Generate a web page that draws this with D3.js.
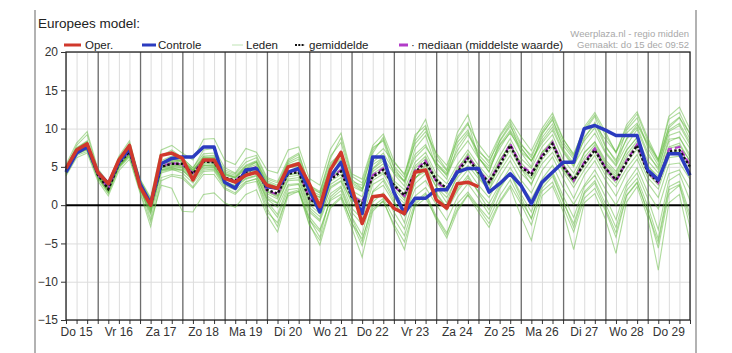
<!DOCTYPE html>
<html>
<head>
<meta charset="utf-8">
<script src="https://cdn.jsdelivr.net/npm/d3@7"></script>
<style>
 body { margin: 0; background: #fff; }
 svg text { font-family: Arial, "Liberation Sans", sans-serif; }
</style>
</head>
<body>
<svg id="pluim" width="732" height="353"></svg>
<script>
 // Europees model pluim, 6-uurlijks vanaf do 15 06:00
 const dayLabels = ["Do 15","Vr 16","Za 17","Zo 18","Ma 19","Di 20","Wo 21","Do 22","Vr 23","Za 24","Zo 25","Ma 26","Di 27","Wo 28","Do 29"];
 const yTicks = [20,15,10,5,0,-5,-10,-15];

 const oper = [4.8,7.2,8.0,4.3,2.8,5.9,7.8,2.4,0.0,6.5,6.8,6.1,3.3,5.9,5.9,3.5,3.0,3.9,4.3,2.6,2.2,5.0,5.4,2.8,-0.2,4.6,6.9,2.4,-2.4,1.1,1.3,-0.4,-1.1,4.3,4.6,0.7,-0.4,2.8,3.0,2.4];
 const controle = [4.3,6.8,7.6,4.3,2.8,5.6,7.4,2.8,0.2,5.4,6.1,6.3,6.3,7.6,7.6,3.0,2.2,4.6,4.8,2.4,2.2,4.3,4.8,2.0,-0.9,3.7,5.6,1.5,-1.1,6.3,6.3,1.7,-1.1,0.9,0.9,2.0,2.0,4.3,4.8,4.8,1.7,2.8,4.1,2.6,0.2,3.0,4.3,5.6,5.6,10.0,10.4,9.8,9.1,9.1,9.1,4.6,3.3,6.7,6.7,3.9];
 const gemiddelde = [4.5,7.0,7.7,4.0,2.1,5.4,7.0,2.6,0.0,5.0,5.4,5.4,4.1,5.7,5.6,3.6,3.2,4.3,4.9,2.0,1.5,4.1,4.3,0.8,0.0,3.3,4.4,1.1,0.2,3.7,4.6,2.6,1.3,4.3,5.6,3.3,2.2,4.3,6.1,4.3,3.0,5.2,7.8,5.0,4.0,6.3,8.0,5.0,3.3,5.4,7.2,4.8,3.3,5.6,7.8,4.3,3.0,7.0,7.2,5.0];
 const mediaan = [4.6,7.1,7.7,4.0,2.2,5.5,7.0,2.7,0.1,5.1,5.5,5.3,4.2,5.8,5.7,3.5,3.2,4.4,5.0,1.9,1.4,4.3,4.6,0.9,-0.2,3.5,4.6,1.2,0.4,3.9,4.8,2.5,1.2,4.5,5.8,3.1,2.0,4.6,6.3,4.5,3.1,5.4,8.0,5.2,4.2,6.5,8.2,5.1,3.2,5.6,7.4,4.9,3.1,5.8,7.9,4.4,2.9,7.3,7.6,5.2];

 const leden = [
  [5.0,7.5,8.4,4.4,2.4,5.8,7.6,3.0,0.5,5.6,6.0,5.9,4.6,6.4,6.5,4.4,3.9,5.2,5.8,3.2,2.6,5.2,5.6,2.0,1.3,4.8,6.2,2.8,1.9,5.6,6.8,4.5,3.2,6.6,7.9,5.2,4.0,6.6,8.4,6.1,4.8,7.4,9.6,7.0,5.8,8.4,10.2,7.1,5.2,7.6,9.4,6.8,5.1,7.8,9.9,6.5,4.9,9.1,9.6,7.4],
  [4.0,6.5,7.0,3.5,1.5,4.8,6.3,2.0,-1.2,4.2,4.6,4.6,3.2,4.8,4.9,2.7,2.3,3.4,3.8,0.8,-0.3,2.7,2.8,-0.9,-2.1,1.5,2.5,-0.9,-2.5,1.7,2.6,0.3,-1.4,2.1,3.2,0.9,-0.7,1.8,3.6,1.8,0.2,2.7,4.9,2.6,0.8,3.4,5.2,2.3,0.1,2.6,4.6,2.1,0.0,2.9,4.9,1.7,-0.5,4.1,4.6,2.1],
  [4.7,7.2,8.0,4.2,2.3,5.6,7.2,2.9,0.3,5.4,5.9,5.8,4.5,6.0,6.1,4.1,3.6,4.8,5.3,2.7,2.3,5.1,5.3,1.6,1.0,4.6,6.0,2.5,1.8,6.1,7.4,5.6,4.1,8.0,9.6,6.8,5.2,8.6,10.6,8.0,6.2,9.1,11.2,9.0,7.1,10.0,12.0,8.7,6.5,10.2,12.1,9.6,6.8,10.5,12.2,8.8,5.9,11.6,12.8,9.9],
  [4.2,6.6,7.3,3.7,1.8,5.0,6.6,2.2,-0.6,4.5,4.8,4.7,3.5,5.0,5.0,3.0,2.5,3.5,3.9,0.5,-1.2,2.5,2.7,-1.5,-3.2,0.6,1.4,-2.3,-4.4,-0.2,0.9,-1.7,-4.0,0.4,1.6,-1.4,-3.6,-0.5,1.4,-0.4,-2.4,0.5,2.6,0.2,-2.6,1.8,3.0,-0.2,-3.5,0.9,2.2,-0.7,-4.2,1.2,2.9,-0.8,-5.6,1.4,2.6,-2.8],
  [4.4,6.9,7.8,4.1,2.0,5.3,7.0,2.5,-1.8,3.6,4.0,3.8,2.4,4.4,4.5,2.3,1.6,3.0,3.5,-0.4,-2.8,1.6,2.0,-2.4,-5.2,-0.4,0.9,-2.9,-6.8,-0.8,0.6,-2.8,-5.8,0.1,1.4,-1.9,-4.3,-0.8,1.3,-0.9,-2.9,0.3,2.3,-1.4,-4.6,1.2,2.5,-0.8,-5.8,0.3,1.5,-1.8,-6.3,0.4,2.4,-1.6,-8.5,0.3,1.4,-4.8],
  [4.9,7.8,9.2,4.6,2.6,6.2,8.1,3.3,0.8,6.4,7.2,6.2,4.8,7.2,7.4,4.9,4.2,6.1,6.5,3.6,3.1,6.0,6.8,2.6,1.8,6.4,8.2,3.4,2.2,7.2,8.6,4.9,3.0,8.4,10.1,5.6,3.8,8.9,10.8,6.3,4.3,8.4,10.6,6.9,5.0,9.2,11.3,7.3,5.5,9.6,11.6,7.8,5.6,9.8,11.4,7.5,5.2,10.4,11.5,8.6],
  [4.6,7.1,7.6,3.9,2.2,5.5,7.1,2.7,0.1,5.1,5.6,5.3,4.0,5.9,5.8,3.4,3.0,4.5,5.1,1.7,1.2,4.4,4.6,0.5,-0.5,3.6,4.8,1.3,0.4,4.1,5.0,2.1,0.6,4.8,6.1,2.9,1.5,4.6,6.8,4.5,2.7,5.7,8.1,5.3,3.5,6.9,8.5,4.9,2.8,5.8,7.6,5.1,3.6,6.2,8.1,4.6,3.2,7.4,7.8,5.8],
  [4.3,6.8,7.4,3.8,2.0,5.2,6.8,2.4,-0.3,4.8,5.1,5.0,3.7,5.4,5.3,3.3,2.9,4.0,4.6,1.5,0.8,3.7,3.9,0.1,-1.1,2.7,3.6,0.3,-1.0,3.2,4.1,1.6,0.2,3.5,4.8,2.4,1.0,3.6,5.2,3.5,2.0,4.4,6.5,4.2,2.8,5.4,6.9,4.4,2.3,4.6,6.5,3.9,2.4,4.8,6.6,3.6,2.1,6.2,6.4,4.3],
  [4.5,7.0,7.5,4.0,1.9,5.0,6.4,1.8,-2.2,2.6,2.2,-0.8,-0.9,1.4,1.6,0.3,-0.3,1.4,2.0,-1.3,-3.5,1.2,1.8,-1.8,-4.2,1.1,2.3,-1.5,-3.9,1.8,3.2,0.6,-2.3,3.4,5.2,2.4,0.3,4.1,6.6,3.8,1.9,5.8,7.9,4.9,2.6,6.6,8.3,5.5,3.1,6.9,8.2,5.6,4.1,7.2,8.8,5.1,3.8,8.3,8.9,6.2],
  [4.8,7.3,8.1,4.3,2.5,5.7,7.3,2.8,0.4,5.3,5.8,5.6,4.4,6.2,6.3,4.2,3.7,5.0,5.6,2.9,2.3,5.4,6.0,1.9,1.0,5.2,7.0,3.1,2.6,6.8,8.9,5.1,3.6,8.8,11.2,6.6,4.6,9.5,11.8,7.3,5.5,8.9,10.9,8.1,6.2,9.4,11.1,8.2,6.3,8.9,10.5,8.6,6.9,9.4,10.7,8.1,6.0,10.1,11.4,9.4],
  [4.1,6.7,7.2,3.6,1.6,5.0,6.7,2.2,-1.0,4.4,4.7,4.2,2.9,4.6,4.7,2.6,2.0,3.1,3.4,0.2,-1.6,2.0,2.2,-1.9,-3.5,0.8,1.9,-1.6,-4.8,0.4,1.6,-0.9,-3.1,1.2,2.3,0.1,-2.0,1.0,2.8,0.9,-1.2,2.1,4.2,1.5,-0.9,3.0,4.4,1.2,-1.6,2.4,3.9,1.1,-1.9,2.5,4.2,0.9,-3.2,3.2,4.1,0.6],
  [4.6,7.2,7.9,4.1,2.3,5.6,7.2,2.8,0.2,5.4,5.7,5.8,4.6,6.1,6.0,3.9,3.5,4.8,5.6,2.5,2.0,4.9,5.1,1.4,0.7,4.0,5.4,1.9,1.1,4.7,5.8,3.2,2.0,5.6,6.9,4.1,2.8,5.3,7.2,5.2,3.6,6.4,8.7,6.1,4.8,7.6,9.2,6.0,4.2,6.8,8.3,5.9,4.4,7.1,8.9,5.8,4.2,8.6,8.8,6.6],
  [5.3,8.1,9.6,4.8,2.9,6.4,8.4,3.4,1.0,7.2,7.8,6.8,5.9,8.6,8.7,5.9,5.3,7.4,6.9,4.6,4.2,7.2,7.6,3.5,2.6,7.3,9.4,4.1,3.4,7.8,9.3,5.8,3.9,9.2,10.4,6.1,4.5,8.2,9.8,6.6,5.1,7.9,9.8,7.6,5.7,8.8,10.6,7.8,6.0,8.4,10.1,7.0,5.3,8.7,10.5,7.9,5.6,9.6,10.4,7.9],
  [3.8,6.2,6.8,3.2,1.2,4.5,6.0,1.6,-2.8,3.2,3.8,3.5,2.2,4.0,4.0,2.1,1.4,2.8,3.1,-0.9,-2.3,1.5,1.8,-2.6,-4.6,-0.2,1.1,-2.2,-5.3,-0.5,0.5,-2.5,-4.8,-0.2,0.9,-1.6,-3.9,0.2,1.7,-0.2,-1.8,1.2,3.3,0.6,-1.7,2.2,3.8,0.4,-2.4,1.7,3.2,0.2,-2.9,1.9,3.5,-0.1,-4.4,2.4,3.1,-1.2],
  [4.5,6.9,7.7,3.9,2.1,5.4,6.9,2.6,0.0,5.0,5.3,5.1,3.9,5.5,5.6,3.6,3.2,4.3,4.8,1.9,1.3,4.0,4.1,0.7,-0.2,3.1,4.0,0.8,-0.5,3.6,4.3,2.4,1.0,4.1,5.3,3.2,2.0,4.0,5.8,4.0,2.6,4.9,7.2,4.8,3.4,5.9,7.6,4.6,3.0,5.1,7.0,4.4,2.9,5.5,7.3,4.1,2.6,6.8,7.1,4.9],
  [4.3,6.8,7.5,3.8,1.9,5.1,6.7,2.3,-0.8,4.6,4.9,4.5,3.4,5.2,5.1,2.9,2.5,3.8,4.2,0.9,0.2,3.2,3.3,-0.6,-1.9,2.4,3.2,0.6,0.1,4.8,6.1,4.2,3.1,6.2,7.6,5.5,4.2,7.1,9.2,7.0,5.8,8.3,10.3,7.9,6.5,9.6,11.6,8.6,6.7,9.9,11.8,9.1,7.0,10.1,11.9,8.4,5.8,11.2,12.1,9.2],
  [4.9,7.4,8.3,4.3,2.4,5.8,7.5,3.1,0.6,5.8,6.4,6.1,4.9,6.7,6.8,4.6,4.1,5.6,6.2,3.4,2.9,5.6,6.3,2.3,1.6,5.5,6.8,3.0,2.1,5.3,6.2,2.6,0.9,3.6,4.4,1.4,-0.4,2.1,3.9,1.6,-0.6,2.4,4.1,1.1,-1.8,2.6,4.1,0.6,-2.9,1.5,2.9,-0.4,-3.6,1.3,3.0,-0.9,-4.9,2.0,2.7,-1.8],
  [4.7,7.0,7.8,4.0,2.2,5.5,7.0,2.6,-0.2,4.9,5.2,5.2,4.2,5.6,5.4,3.5,3.0,4.2,4.7,1.8,1.0,3.9,4.3,0.9,0.2,3.5,4.6,1.4,0.6,4.4,5.4,2.9,1.4,5.1,6.4,3.6,2.1,4.9,6.4,4.8,3.2,5.9,7.9,5.6,4.1,6.9,8.2,5.2,3.6,6.2,7.9,5.4,3.8,6.6,8.4,5.2,3.4,7.6,8.1,5.7],
  [4.8,7.4,8.2,4.2,2.3,5.7,7.4,2.9,0.3,5.5,6.0,5.7,4.3,6.3,6.2,4.0,3.6,5.1,5.7,3.0,2.4,5.8,6.6,2.6,1.6,6.1,8.8,3.8,2.9,7.5,8.4,4.1,2.5,7.4,9.1,5.0,3.4,7.7,9.5,6.2,4.4,7.8,9.4,7.4,5.8,8.1,9.8,6.9,5.0,8.7,10.8,7.6,5.9,8.6,10.2,6.9,4.6,9.8,10.7,8.2],
  [4.2,6.7,7.4,3.7,1.8,5.1,6.6,2.3,-0.5,4.6,5.0,4.9,3.6,5.2,5.2,3.1,2.6,3.8,4.4,1.2,0.3,3.4,3.6,-0.3,-1.5,2.2,3.1,-0.4,-1.8,2.7,3.5,1.0,-0.6,2.8,4.1,1.6,-0.3,2.9,4.6,2.6,1.0,3.6,5.8,3.3,1.6,4.5,6.3,3.5,0.9,3.9,5.8,3.3,1.2,4.1,6.0,2.9,1.0,5.3,5.5,3.4]
 ];

 let svg = d3.select("svg#pluim");

 let plot = {left: 66, right: 690, top: 52, bottom: 320};

 // tijd in uren vanaf do 15 00:00
 const startHour = 6, stepHours = 6, endHour = 360;
 const hourAt = i => startHour + i*stepHours;

 const xScale = d3.scaleLinear().domain([startHour, endHour]).range([plot.left, plot.right]);
 const yScale = d3.scaleLinear().domain([-15, 20]).range([plot.bottom, plot.top]);

 // kader van de afbeelding
 svg.append("line").attr("x1",35).attr("x2",35).attr("y1",10).attr("y2",353)
    .attr("stroke","#999").attr("stroke-width",1.5);
 svg.append("line").attr("x1",696).attr("x2",696).attr("y1",10).attr("y2",353)
    .attr("stroke","#999").attr("stroke-width",1.5);

 let grid = svg.append("g").attr("id","grid");

 // 6-uurs lijnen
 grid.append("g")
     .attr("transform",`translate(0,${plot.bottom})`)
     .call(d3.axisBottom(xScale).tickValues(d3.range(6, endHour+1, 6)).tickSize(-(plot.bottom-plot.top)).tickFormat(""))
     .call(g => g.select(".domain").remove())
     .call(g => g.selectAll(".tick line").attr("stroke","#dcdcdc"));

 // horizontale lijnen
 grid.append("g")
     .attr("transform",`translate(${plot.left},0)`)
     .call(d3.axisLeft(yScale).tickValues(yTicks).tickSize(-(plot.right-plot.left)).tickFormat(""))
     .call(g => g.select(".domain").remove())
     .call(g => g.selectAll(".tick line").attr("stroke","#dcdcdc"));

 // daggrenzen
 grid.append("g")
     .attr("transform",`translate(0,${plot.bottom})`)
     .call(d3.axisBottom(xScale).tickValues(d3.range(24, endHour, 24)).tickSize(-(plot.bottom-plot.top)).tickFormat(""))
     .call(g => g.select(".domain").remove())
     .call(g => g.selectAll(".tick line").attr("stroke","#6e6e6e").attr("stroke-width",1.3));

 // kleine tickjes onder de as
 svg.append("g")
    .attr("transform",`translate(0,${plot.bottom})`)
    .call(d3.axisBottom(xScale).tickValues(d3.range(6, endHour+1, 6)).tickSize(4).tickFormat(""))
    .call(g => g.select(".domain").remove())
    .call(g => g.selectAll(".tick line").attr("stroke","#333"));

 const line = d3.line()
     .x((d,i) => xScale(hourAt(i)))
     .y(d => yScale(d));

 let lines = svg.append("g").attr("id","lines");

 lines.selectAll("path.lid")
      .data(leden)
      .join("path")
      .attr("class","lid")
      .attr("d", line)
      .attr("fill","none")
      .attr("stroke","rgb(95,185,60)")
      .attr("stroke-opacity",0.5)
      .attr("stroke-width",1.1);

 // nul-lijn
 svg.append("line")
    .attr("x1",plot.left).attr("x2",plot.right)
    .attr("y1",yScale(0)).attr("y2",yScale(0))
    .attr("stroke","#000").attr("stroke-width",2);

 lines.append("path").attr("d", line(mediaan))
      .attr("fill","none").attr("stroke","#b23cc8").attr("stroke-width",2.2)
      .attr("stroke-dasharray","6,3");
 lines.append("path").attr("d", line(gemiddelde))
      .attr("fill","none").attr("stroke","#111").attr("stroke-width",2.4)
      .attr("stroke-dasharray","2.5,2");
 lines.append("path").attr("d", line(controle))
      .attr("fill","none").attr("stroke","#2b3bbf").attr("stroke-width",3.5)
      .attr("stroke-linejoin","round");
 lines.append("path").attr("d", line(oper))
      .attr("fill","none").attr("stroke","#d0382c").attr("stroke-width",3.5)
      .attr("stroke-linejoin","round");
 svg.select("#lines").raise();

 // kader van de grafiek
 svg.append("rect")
    .attr("x",plot.left).attr("y",plot.top)
    .attr("width",plot.right-plot.left).attr("height",plot.bottom-plot.top)
    .attr("fill","none").attr("stroke","#222").attr("stroke-width",1.3);

 // y-as
 let leftAxis = svg.append("g")
    .attr("transform",`translate(${plot.left},0)`)
    .call(d3.axisLeft(yScale).tickValues(yTicks).tickSize(5).tickPadding(3).tickFormat(d3.format("")))
    .call(g => g.select(".domain").remove());
 leftAxis.selectAll("text").attr("font-size",12).attr("fill","#333")
    .style("font-family","Arial, 'Liberation Sans', sans-serif");
 leftAxis.selectAll(".tick line").attr("stroke","#333");

 // dagnamen op 12 uur
 svg.append("g").selectAll("text")
    .data(dayLabels)
    .join("text")
    .attr("x",(d,i) => xScale(12 + i*24))
    .attr("y",336)
    .attr("text-anchor","middle")
    .attr("font-size",12)
    .attr("fill","#333")
    .text(d => d);

 // titel
 svg.append("text").attr("x",38).attr("y",28)
    .attr("font-size",13.5).attr("fill","#222").text("Europees model:");

 // legenda
 let legend = svg.append("g").attr("id","legend");
 const legY = 45;
 legend.append("line").attr("x1",64).attr("x2",81).attr("y1",legY).attr("y2",legY)
       .attr("stroke","#d0382c").attr("stroke-width",3);
 legend.append("text").attr("x",85).attr("y",legY+4).text("Oper.");
 legend.append("line").attr("x1",142).attr("x2",156).attr("y1",legY).attr("y2",legY)
       .attr("stroke","#2b3bbf").attr("stroke-width",3);
 legend.append("text").attr("x",158).attr("y",legY+4).text("Controle");
 legend.append("line").attr("x1",232).attr("x2",243).attr("y1",legY).attr("y2",legY)
       .attr("stroke","#bfe3b4").attr("stroke-width",1);
 legend.append("text").attr("x",246).attr("y",legY+4).text("Leden");
 legend.append("line").attr("x1",295).attr("x2",305).attr("y1",legY).attr("y2",legY)
       .attr("stroke","#111").attr("stroke-width",2.2).attr("stroke-dasharray","2,1.3");
 legend.append("text").attr("x",309).attr("y",legY+4).text("gemiddelde");
 legend.append("line").attr("x1",399).attr("x2",408).attr("y1",legY).attr("y2",legY)
       .attr("stroke","#b23cc8").attr("stroke-width",3);
 legend.append("text").attr("x",411).attr("y",legY+4).text("· mediaan (middelste waarde)");
 legend.selectAll("text").attr("font-size",11.5).attr("fill","#222");

 svg.append("text").attr("x",689).attr("y",37).attr("text-anchor","end")
    .attr("font-size",9.5).attr("fill","#a8a8a8").text("Weerplaza.nl - regio midden");
 svg.append("text").attr("x",689).attr("y",48).attr("text-anchor","end")
    .attr("font-size",9.5).attr("fill","#a8a8a8").text("Gemaakt: do 15 dec 09:52");
</script>
</body>
</html>
